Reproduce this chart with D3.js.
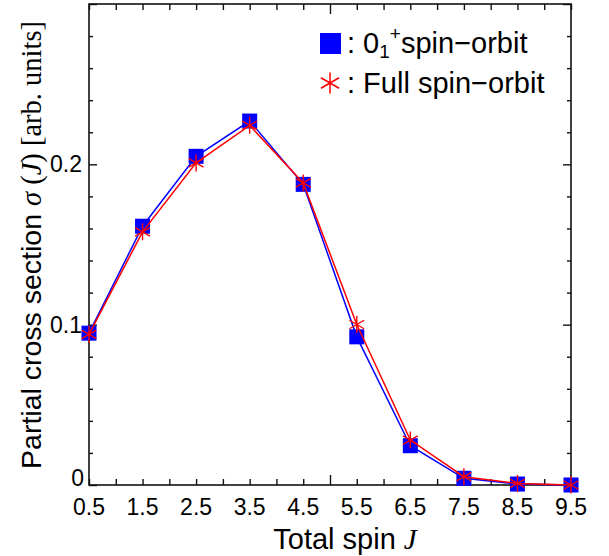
<!DOCTYPE html>
<html>
<head>
<meta charset="utf-8">
<script src="https://cdn.jsdelivr.net/npm/d3@7/dist/d3.min.js"></script>
<style>
  html, body { margin: 0; padding: 0; background: #fff; }
  svg { display: block; }
  .sans { font-family: "Liberation Sans", Arial, Helvetica, sans-serif; }
  .serif { font-family: "Liberation Serif", "Times New Roman", serif; }
</style>
</head>
<body>
<svg id="chart" width="609" height="556"></svg>
<script>
// Total spin J of each partial wave
const spin = [0.5, 1.5, 2.5, 3.5, 4.5, 5.5, 6.5, 7.5, 8.5, 9.5];
// Partial cross sections (arb. units)
const sigmaGround = [0.0947, 0.1614, 0.2050, 0.2270, 0.1875, 0.0924, 0.0245, 0.0042, 0.0006, 0.0000];
const sigmaFull   = [0.0940, 0.1579, 0.2009, 0.2243, 0.1884, 0.1001, 0.0280, 0.0052, 0.0010, 0.0000];
// Axis ticks
const xTickLabels = ["0.5", "1.5", "2.5", "3.5", "4.5", "5.5", "6.5", "7.5", "8.5", "9.5"];
const xMajorTicks = [5];
const yMajorTicks = [0, 0.1, 0.2, 0.3];
const yTickLabels = ["0", "0.1", "0.2"];

const svg = d3.select("#chart");
const plotLeft = 89, plotRight = 571, plotTop = 4, plotBottom = 485;

const x = d3.scaleLinear().domain([0.5, 9.5]).range([plotLeft, plotRight]);
const y = d3.scaleLinear().domain([0, 0.3]).range([plotBottom, plotTop]);

const xMinor = d3.range(0.5, 9.51, 0.5).filter(v => !xMajorTicks.includes(v));
const yMinor = d3.range(0, 0.3001, 0.02).filter(v => !yMajorTicks.some(m => Math.abs(m - v) < 1e-9));

function tickAxis(gen, values, size) {
  return gen.tickValues(values).tickSizeInner(size).tickSizeOuter(0).tickFormat(() => "");
}
function styleAxis(g) {
  g.select(".domain").remove();
  g.selectAll(".tick line").attr("stroke", "#111").attr("stroke-width", 1.4);
}

// Inward-pointing ticks on all four sides
const axes = svg.append("g");
axes.append("g").attr("transform", `translate(0,${plotBottom})`).call(tickAxis(d3.axisBottom(x), xMinor, -6)).call(styleAxis);
axes.append("g").attr("transform", `translate(0,${plotBottom})`).call(tickAxis(d3.axisBottom(x), xMajorTicks, -10)).call(styleAxis);
axes.append("g").attr("transform", `translate(0,${plotTop})`).call(tickAxis(d3.axisTop(x), xMinor, -6)).call(styleAxis);
axes.append("g").attr("transform", `translate(0,${plotTop})`).call(tickAxis(d3.axisTop(x), xMajorTicks, -10)).call(styleAxis);
axes.append("g").attr("transform", `translate(${plotLeft},0)`).call(tickAxis(d3.axisLeft(y), yMinor, -4)).call(styleAxis);
axes.append("g").attr("transform", `translate(${plotLeft},0)`).call(tickAxis(d3.axisLeft(y), yMajorTicks, -8)).call(styleAxis);
axes.append("g").attr("transform", `translate(${plotRight},0)`).call(tickAxis(d3.axisRight(y), yMinor, -4)).call(styleAxis);
axes.append("g").attr("transform", `translate(${plotRight},0)`).call(tickAxis(d3.axisRight(y), yMajorTicks, -8)).call(styleAxis);

// Plot frame
svg.append("rect")
  .attr("x", plotLeft).attr("y", plotTop)
  .attr("width", plotRight - plotLeft).attr("height", plotBottom - plotTop)
  .attr("fill", "none").attr("stroke", "#111").attr("stroke-width", 1.6);

// Tick labels
svg.append("g").selectAll("text").data(spin).join("text")
  .attr("class", "sans")
  .attr("x", d => x(d)).attr("y", 515)
  .attr("text-anchor", "middle").attr("font-size", 23).attr("fill", "#000")
  .text((d, i) => xTickLabels[i]);

svg.append("g").selectAll("text").data(yTickLabels).join("text")
  .attr("class", "sans")
  .attr("x", (d, i) => i === 0 ? 84 : 82)
  .attr("y", (d, i) => y(+d) + (i === 0 ? 1 : 8))
  .attr("text-anchor", "end").attr("font-size", 23).attr("fill", "#000")
  .text(d => d);

// Axis titles
const xTitle = svg.append("text")
  .attr("class", "sans").attr("x", 345).attr("y", 549)
  .attr("text-anchor", "middle").attr("font-size", 29).attr("fill", "#000");
xTitle.append("tspan").text("Total spin ");
xTitle.append("tspan").attr("class", "serif").attr("font-style", "italic").text("J");

const yTitle = svg.append("text")
  .attr("class", "sans")
  .attr("transform", "translate(41,245) rotate(-90)")
  .attr("text-anchor", "middle").attr("font-size", 28.5).attr("fill", "#000");
yTitle.append("tspan").text("Partial cross section ");
yTitle.append("tspan").attr("class", "serif").attr("font-style", "italic").text("σ");
yTitle.append("tspan").attr("class", "serif").text(" (");
yTitle.append("tspan").attr("class", "serif").attr("font-style", "italic").text("J");
yTitle.append("tspan").attr("class", "serif").text(") [arb. units]");

// Series
const line = d3.line().x(d => x(d[0])).y(d => y(d[1]));
const ground = spin.map((s, i) => [s, sigmaGround[i]]);
const full = spin.map((s, i) => [s, sigmaFull[i]]);

const plot = svg.append("g");
plot.append("path").datum(ground).attr("d", line)
  .attr("fill", "none").attr("stroke", "#0000ff").attr("stroke-width", 1.5);
const sq = 15;
plot.append("g").selectAll("rect").data(ground).join("rect")
  .attr("x", d => x(d[0]) - sq / 2).attr("y", d => y(d[1]) - sq / 2)
  .attr("width", sq).attr("height", sq).attr("fill", "#0000ff");

plot.append("path").datum(full).attr("d", line)
  .attr("fill", "none").attr("stroke", "#ff0000").attr("stroke-width", 1.5);

// Six-armed asterisk marker
function asterisk(r) {
  const a = r * Math.cos(Math.PI / 6), b = r * Math.sin(Math.PI / 6);
  return `M0,${-r}L0,${r}M${-a},${-b}L${a},${b}M${-a},${b}L${a},${-b}`;
}
plot.append("g").selectAll("path").data(full).join("path")
  .attr("transform", d => `translate(${x(d[0])},${y(d[1])})`)
  .attr("d", asterisk(8.5))
  .attr("fill", "none").attr("stroke", "#ff0000").attr("stroke-width", 1.4);

// Legend
const legend = svg.append("g");
legend.append("rect").attr("x", 320).attr("y", 33).attr("width", 21).attr("height", 21).attr("fill", "#0000ff");
const l1 = legend.append("text").attr("class", "sans").attr("x", 347).attr("y", 53)
  .attr("font-size", 29).attr("fill", "#000");
l1.append("tspan").text(": 0");
l1.append("tspan").attr("font-size", 19).attr("dy", 5).text("1");
l1.append("tspan").attr("font-size", 19).attr("dy", -18).text("+");
l1.append("tspan").attr("dy", 13).text("spin\u2212orbit");

legend.append("path").attr("transform", "translate(330,83)").attr("d", asterisk(10.5))
  .attr("fill", "none").attr("stroke", "#ff0000").attr("stroke-width", 1.5);
legend.append("text").attr("class", "sans").attr("x", 347).attr("y", 93)
  .attr("font-size", 29).attr("fill", "#000").text(": Full spin\u2212orbit");
</script>
</body>
</html>
